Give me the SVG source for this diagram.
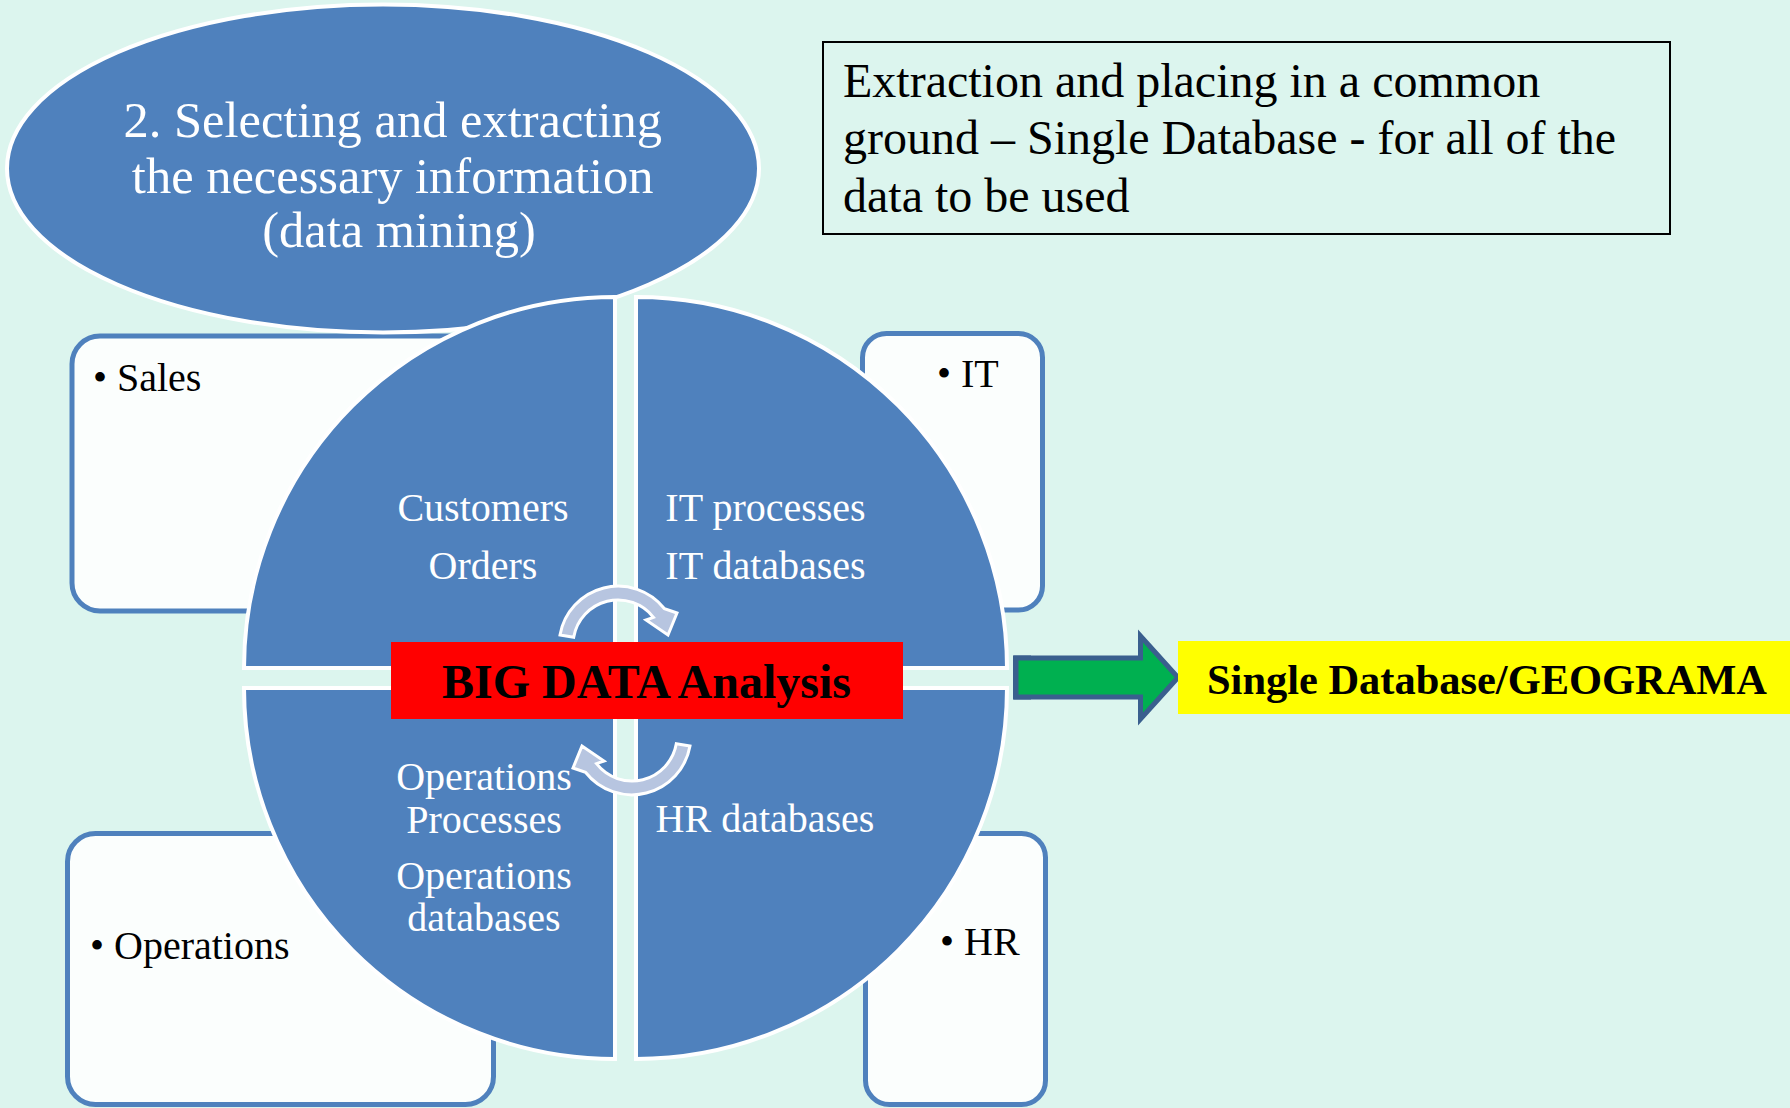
<svg xmlns="http://www.w3.org/2000/svg" xmlns:xlink="http://www.w3.org/1999/xlink" width="1790" height="1108" viewBox="0 0 1790 1108">
  <style>
    .box { fill: #FBFEFD; stroke: #4F81BD; stroke-width: 5; }
    .quad { fill: #4F81BD; stroke: #FFFFFF; stroke-width: 4; }
    .serif { font-family: "Liberation Serif", "Times New Roman", serif; }
    .bullet { font-size: 40px; fill: #000000; }
    .qtext { font-size: 40px; fill: #FFFFFF; text-anchor: middle; }
    .cyc { fill: #B7C5E0; stroke: #FFFFFF; stroke-width: 3; stroke-linejoin: miter; }
  </style>
  <defs>
    <!-- curved cycle arrow around the centre, drawn once and rotated for the lower one -->
    <path id="cycArrow" d="M 560 635 A 59 59 0 0 1 664.5 608.7 L 677 613 L 668 635 L 646 620 L 653.5 617.3 A 45 45 0 0 0 573.7 637.2 Z"/>
  </defs>

  <rect x="0" y="0" width="1790" height="1108" fill="#DCF5EE"/>

  <!-- corner category boxes -->
  <g id="sales">
    <rect class="box" x="72" y="336" width="490" height="275" rx="28"/>
    <text class="serif bullet" x="93" y="391">• Sales</text>
  </g>
  <g id="it">
    <rect class="box" x="862.5" y="333.5" width="180" height="276.5" rx="24"/>
    <text class="serif bullet" x="937" y="387">• IT</text>
  </g>
  <g id="operations">
    <rect class="box" x="67.5" y="833.5" width="426" height="271" rx="28"/>
    <text class="serif bullet" x="90" y="959">• Operations</text>
  </g>
  <g id="hr">
    <rect class="box" x="865.5" y="833.5" width="180" height="271" rx="24"/>
    <text class="serif bullet" x="940" y="955">• HR</text>
  </g>

  <!-- step title -->
  <g id="step-title">
    <ellipse cx="383" cy="168.5" rx="376" ry="164" fill="#4F81BD" stroke="#FFFFFF" stroke-width="4"/>
    <text class="serif" font-size="50.5" fill="#FFFFFF" text-anchor="middle">
      <tspan x="399" y="137">2. Selecting and extracting</tspan>
      <tspan x="399" y="193">the necessary information</tspan>
      <tspan x="399" y="247">(data mining)</tspan>
    </text>
  </g>

  <!-- four quadrants of the cycle matrix -->
  <g id="quadrant-sales">
    <path class="quad" d="M 615 668 L 244 668 A 371 371 0 0 1 615 297 Z"/>
    <text class="serif qtext" x="483" y="521">Customers</text>
    <text class="serif qtext" x="483" y="579">Orders</text>
  </g>
  <g id="quadrant-it">
    <path class="quad" d="M 636 668 L 636 297 A 371 371 0 0 1 1007 668 Z"/>
    <text class="serif qtext" x="765.5" y="521">IT processes</text>
    <text class="serif qtext" x="765.5" y="579">IT databases</text>
  </g>
  <g id="quadrant-operations">
    <path class="quad" d="M 615 688 L 615 1059 A 371 371 0 0 1 244 688 Z"/>
    <text class="serif qtext" x="484" y="790">Operations</text>
    <text class="serif qtext" x="484" y="833">Processes</text>
    <text class="serif qtext" x="484" y="889">Operations</text>
    <text class="serif qtext" x="484" y="931">databases</text>
  </g>
  <g id="quadrant-hr">
    <path class="quad" d="M 636 688 L 1007 688 A 371 371 0 0 1 636 1059 Z"/>
    <text class="serif qtext" x="765" y="832">HR databases</text>
  </g>

  <!-- connectors -->
  <g id="connectors">
    <use xlink:href="#cycArrow" href="#cycArrow" class="cyc"/>
    <use xlink:href="#cycArrow" href="#cycArrow" class="cyc" transform="rotate(180 625 690.5)"/>
    <rect x="1013" y="655.5" width="18" height="44" fill="#3A5F8E"/>
    <path d="M 1016 658 L 1140.5 658 L 1140.5 636 L 1178 677.5 L 1140.5 719 L 1140.5 697 L 1016 697 Z" fill="#00B050" stroke="#3A5F8E" stroke-width="5" stroke-linejoin="miter"/>
  </g>

  <!-- central analysis label -->
  <g id="big-data">
    <rect x="391" y="642" width="512" height="77" fill="#FF0000"/>
    <text class="serif" x="646.5" y="698" font-size="48" font-weight="bold" fill="#000000" text-anchor="middle">BIG DATA Analysis</text>
  </g>

  <!-- target database -->
  <g id="single-database">
    <rect x="1178" y="641" width="612" height="73" fill="#FFFF00"/>
    <text class="serif" x="1207" y="694" font-size="43" font-weight="bold" fill="#000000" textLength="560" lengthAdjust="spacingAndGlyphs">Single Database/GEOGRAMA</text>
  </g>

  <!-- explanatory note -->
  <g id="note">
    <rect x="823" y="42" width="847" height="192" fill="none" stroke="#000000" stroke-width="2"/>
    <text class="serif" font-size="48" fill="#000000">
      <tspan x="843" y="97">Extraction and placing in a common</tspan>
      <tspan x="843" y="154">ground – Single Database - for all of the</tspan>
      <tspan x="843" y="212">data to be used</tspan>
    </text>
  </g>
</svg>
